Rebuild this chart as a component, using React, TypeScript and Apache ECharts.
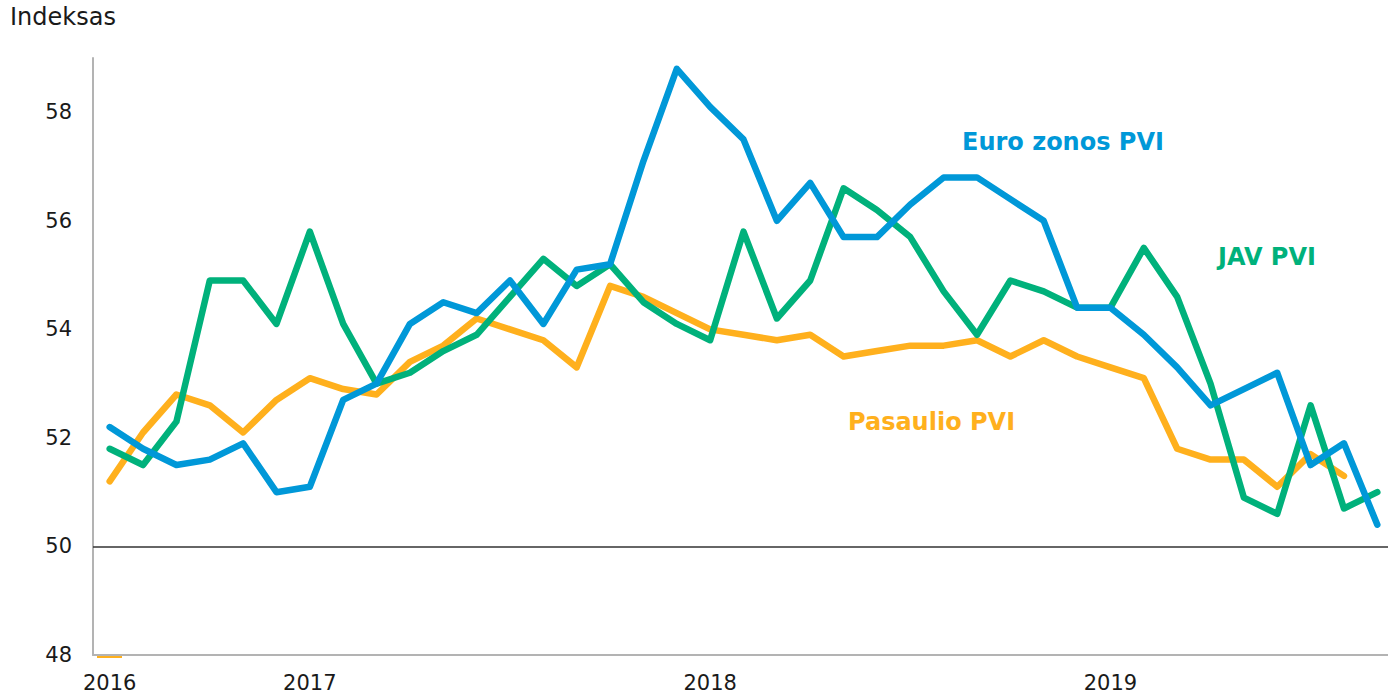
import React, { useEffect, useRef } from "react";
import * as echarts from "echarts";

const months: string[] = [
  "2016-07","2016-08","2016-09","2016-10","2016-11","2016-12",
  "2017-01","2017-02","2017-03","2017-04","2017-05","2017-06","2017-07","2017-08","2017-09","2017-10","2017-11","2017-12",
  "2018-01","2018-02","2018-03","2018-04","2018-05","2018-06","2018-07","2018-08","2018-09","2018-10","2018-11","2018-12",
  "2019-01","2019-02","2019-03","2019-04","2019-05","2019-06","2019-07","2019-08","2019-09",
];

const yearLabelIdx: number[] = [0, 6, 18, 30];
const yearLabels: string[] = ["2016", "2017", "2018", "2019"];

const euroZone: (number | null)[] = [
  52.2, 51.8, 51.5, 51.6, 51.9, 51.0, 51.1, 52.7, 53.0, 54.1, 54.5, 54.3, 54.9,
  54.1, 55.1, 55.2, 57.1, 58.8, 58.1, 57.5, 56.0, 56.7, 55.7, 55.7, 56.3, 56.8,
  56.8, 56.4, 56.0, 54.4, 54.4, 53.9, 53.3, 52.6, 52.9, 53.2, 51.5, 51.9, 50.4,
];

const usa: (number | null)[] = [
  51.8, 51.5, 52.3, 54.9, 54.9, 54.1, 55.8, 54.1, 53.0, 53.2, 53.6, 53.9, 54.6,
  55.3, 54.8, 55.2, 54.5, 54.1, 53.8, 55.8, 54.2, 54.9, 56.6, 56.2, 55.7, 54.7,
  53.9, 54.9, 54.7, 54.4, 54.4, 55.5, 54.6, 53.0, 50.9, 50.6, 52.6, 50.7, 51.0,
];

const world: (number | null)[] = [
  51.2, 52.1, 52.8, 52.6, 52.1, 52.7, 53.1, 52.9, 52.8, 53.4, 53.7, 54.2, 54.0,
  53.8, 53.3, 54.8, 54.6, 54.3, 54.0, 53.9, 53.8, 53.9, 53.5, 53.6, 53.7, 53.7,
  53.8, 53.5, 53.8, 53.5, 53.3, 53.1, 51.8, 51.6, 51.6, 51.1, 51.7, 51.3, null,
];

const BLUE = "#0098d8";
const GREEN = "#00b17b";
const ORANGE = "#ffb01d";
const FONT = "DejaVu Sans, Verdana, sans-serif";

export default function App() {
  const ref = useRef<HTMLDivElement>(null);
  useEffect(() => {
    if (!ref.current) return;
    const chart = echarts.init(ref.current, null, { renderer: "svg" });
    const lineSeries = (name: string, data: (number | null)[], color: string, extra: any = {}) => ({
      name,
      type: "line",
      data,
      symbol: "none",
      lineStyle: { color, width: 6.5, cap: "round", join: "round" },
      itemStyle: { color },
      z: 3,
      ...extra,
    });
    chart.setOption({
      animation: false,
      backgroundColor: "#ffffff",
      grid: { left: 93, top: 58, width: 1301, height: 597, containLabel: false },
      xAxis: {
        type: "category",
        data: months,
        boundaryGap: true,
        axisLine: { show: true, lineStyle: { color: "#b3b3b3", width: 2 } },
        axisTick: { show: false },
        axisLabel: {
          interval: (i: number) => yearLabelIdx.includes(i),
          formatter: (_v: string, i: number) => {
            const k = yearLabelIdx.indexOf(i);
            return k >= 0 ? yearLabels[k] : "";
          },
          color: "#1a1a1a",
          fontFamily: FONT,
          fontSize: 21,
          margin: 17,
        },
        splitLine: { show: false },
      },
      yAxis: {
        type: "value",
        min: 48,
        max: 59,
        interval: 2,
        axisLine: { show: true, lineStyle: { color: "#b3b3b3", width: 2 } },
        axisTick: { show: false },
        splitLine: { show: false },
        axisLabel: {
          formatter: (v: number) => (v % 2 === 0 ? String(v) : ""),
          color: "#1a1a1a",
          fontFamily: FONT,
          fontSize: 21,
          margin: 21,
        },
      },
      series: [
        lineSeries("Pasaulio PVI", world, ORANGE, {
          markLine: {
            silent: true,
            symbol: "none",
            label: { show: false },
            lineStyle: { color: "#333333", width: 1.5, type: "solid" },
            data: [{ yAxis: 50 }],
            z: 1,
          },
        }),
        lineSeries("JAV PVI", usa, GREEN),
        lineSeries("Euro zonos PVI", euroZone, BLUE),
      ],
      graphic: [
        {
          type: "text",
          left: 10,
          top: 5,
          style: { text: "Indeksas", fill: "#1a1a1a", font: `24px ${FONT}` },
        },
        {
          type: "text",
          left: 962,
          top: 130,
          style: { text: "Euro zonos PVI", fill: BLUE, font: `bold 24px ${FONT}` },
        },
        {
          type: "text",
          left: 1218,
          top: 245,
          style: { text: "JAV PVI", fill: GREEN, font: `bold 24px ${FONT}` },
        },
        {
          type: "text",
          left: 848,
          top: 410,
          style: { text: "Pasaulio PVI", fill: ORANGE, font: `bold 24px ${FONT}` },
        },
        {
          type: "line",
          shape: { x1: 97, y1: 657, x2: 122, y2: 657 },
          style: { stroke: ORANGE, lineWidth: 2 },
        },
      ],
    });
    return () => chart.dispose();
  }, []);
  return (
    <div
      style={{ position: "absolute", left: 0, top: 0, width: 1388, height: 693, overflow: "hidden" }}
    >
      <div ref={ref} style={{ width: 1400, height: 693 }} />
    </div>
  );
}
